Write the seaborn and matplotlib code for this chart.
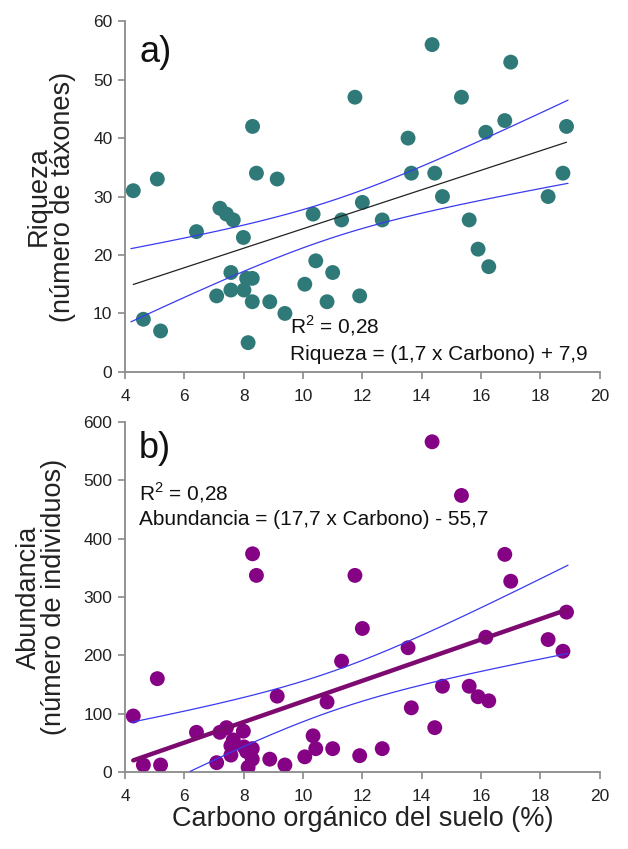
import numpy as np
import pandas as pd
import matplotlib
matplotlib.use("Agg")
import matplotlib.pyplot as plt
import seaborn as sns

# ---- data ----
carbono = [4.28, 4.62, 5.09, 5.20, 6.41, 7.09, 7.20, 7.42, 7.65, 7.57, 7.57, 7.99,
           8.01, 8.10, 8.29, 8.15, 8.29, 8.30, 8.43, 8.88, 9.13, 9.39, 10.06, 10.34,
           10.43, 10.81, 11.00, 11.30, 11.75, 11.91, 12.00, 12.67, 13.54, 13.65,
           14.35, 14.44, 14.70, 15.34, 15.60, 15.90, 16.16, 16.26, 16.80, 17.00,
           18.26, 18.76, 18.88]
riqueza = [31, 9, 33, 7, 24, 13, 28, 27, 26, 17, 14, 23,
           14, 16, 16, 5, 12, 42, 34, 12, 33, 10, 15, 27,
           19, 12, 17, 26, 47, 13, 29, 26, 40, 34,
           56, 34, 30, 47, 26, 21, 41, 18, 43, 53,
           30, 34, 42]
abundancia = [96, 12, 160, 12, 68, 16, 68, 76, 55, 45, 29, 70,
              43, 35, 40, 8, 22, 374, 337, 22, 130, 12, 26, 62,
              40, 120, 40, 190, 337, 28, 246, 40, 213, 110,
              566, 76, 147, 474, 147, 129, 231, 122, 373, 327,
              227, 207, 274]
x_ticks = [4, 6, 8, 10, 12, 14, 16, 18, 20]
y_ticks_a = [0, 10, 20, 30, 40, 50, 60]
y_ticks_b = [0, 100, 200, 300, 400, 500, 600]

df = pd.DataFrame({"carbono": carbono, "riqueza": riqueza, "abundancia": abundancia})

sns.set_theme(style="ticks")
plt.rcParams["font.family"] = ["Liberation Sans", "DejaVu Sans"]
plt.rcParams["mathtext.fontset"] = "custom"
plt.rcParams["mathtext.rm"] = "Liberation Sans"

fig = plt.figure(figsize=(6.28, 8.49), dpi=100)
ax1 = fig.add_axes([0.199, 0.562, 0.756, 0.413])
ax2 = fig.add_axes([0.199, 0.0907, 0.756, 0.4123])

TEAL = "#2f7a78"
PURPLE = "#850285"
BLUE = "#3a3af0"
GRAY = "#8a8a8a"


def conf_band(ax, x, y):
    x = np.asarray(x, float)
    y = np.asarray(y, float)
    n = len(x)
    b, a = np.polyfit(x, y, 1)
    resid = y - (a + b * x)
    s = np.sqrt(np.sum(resid ** 2) / (n - 2))
    xs = np.linspace(x.min() - 0.08, x.max() + 0.05, 200)
    se = s * np.sqrt(1.0 / n + (xs - x.mean()) ** 2 / np.sum((x - x.mean()) ** 2))
    t = 2.014
    yfit = a + b * xs
    lo = yfit - t * se
    hi = yfit + t * se
    ax.plot(xs, hi, color=BLUE, lw=0.9, zorder=3)
    mask = lo >= 0
    ax.plot(xs[mask], lo[mask], color=BLUE, lw=0.9, zorder=3)


# ---- panel a ----
sns.scatterplot(data=df, x="carbono", y="riqueza", ax=ax1, color=TEAL, s=115,
                edgecolor="none", zorder=2)
sns.regplot(data=df, x="carbono", y="riqueza", ax=ax1, scatter=False, ci=None,
            truncate=True, line_kws=dict(color="#222222", lw=0.9, zorder=3))
conf_band(ax1, carbono, riqueza)

# ---- panel b ----
sns.scatterplot(data=df, x="carbono", y="abundancia", ax=ax2, color=PURPLE, s=115,
                edgecolor="none", zorder=2)
sns.regplot(data=df, x="carbono", y="abundancia", ax=ax2, scatter=False, ci=None,
            truncate=True, line_kws=dict(color="#7c0a70", lw=3.2, zorder=3))
conf_band(ax2, carbono, abundancia)

for ax, yt in ((ax1, y_ticks_a), (ax2, y_ticks_b)):
    ax.set_xlim(4, 20)
    ax.set_ylim(yt[0], yt[-1])
    ax.set_xticks(x_ticks)
    ax.set_yticks(yt)
    ax.set_xticklabels([str(v) for v in x_ticks])
    ax.set_yticklabels([str(v) for v in yt])
    for side in ("top", "right"):
        ax.spines[side].set_visible(False)
    for side in ("left", "bottom"):
        ax.spines[side].set_color(GRAY)
        ax.spines[side].set_linewidth(1.3)
    ax.tick_params(axis="both", direction="out", length=5, width=1.2, color=GRAY,
                   labelsize=12.5, labelcolor="#222222")
    ax.tick_params(axis="x", pad=7)
    ax.tick_params(axis="y", pad=4)
    ax.set_facecolor("white")

ax1.set_xlabel("")
ax2.set_xlabel("Carbono orgánico del suelo (%)", fontsize=19.5, color="#222222", labelpad=2)
ax1.set_ylabel("Riqueza\n(número de táxones)", fontsize=19.5, color="#222222",
               labelpad=12, linespacing=0.95)
ax2.set_ylabel("Abundancia\n(número de individuos)", fontsize=19.5, color="#222222",
               labelpad=12, linespacing=0.95)

ax1.text(0.03, 0.96, "a)", transform=ax1.transAxes, fontsize=26, va="top", ha="left",
         color="#111111")
ax2.text(0.03, 0.975, "b)", transform=ax2.transAxes, fontsize=26, va="top", ha="left",
         color="#111111")

r2 = r"R$^{\mathregular{2}}$ = 0,28"
ax1.text(0.347, 0.111, r2, transform=ax1.transAxes, fontsize=15,
         va="baseline", ha="left", color="#111111")
ax1.text(0.347, 0.034, "Riqueza = (1,7 x Carbono) + 7,9", transform=ax1.transAxes,
         fontsize=15, va="baseline", ha="left", color="#111111")
ax2.text(0.03, 0.776, r2, transform=ax2.transAxes, fontsize=15,
         va="baseline", ha="left", color="#111111")
ax2.text(0.03, 0.705, "Abundancia = (17,7 x Carbono) - 55,7", transform=ax2.transAxes,
         fontsize=15, va="baseline", ha="left", color="#111111")

fig.savefig("out.png", dpi=100, facecolor="white")
